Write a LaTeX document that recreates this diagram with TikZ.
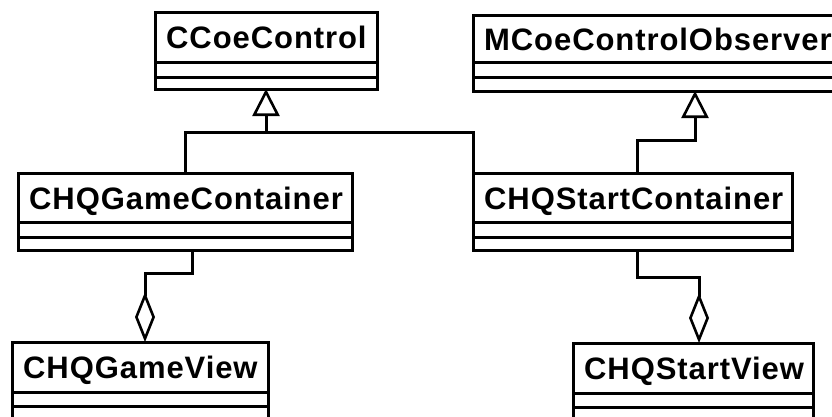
\documentclass[tikz,border=0pt]{standalone}
\usepackage{fontspec}
\setmainfont{Liberation Sans}[LetterSpace=3]
\usetikzlibrary{arrows.meta}

\tikzset{
  x=1pt, y=-1pt,
  umlline/.style={line width=3pt, line join=miter, line cap=rect},
  clsbox/.style={draw, line width=3pt, inner sep=0pt, outer sep=0pt, anchor=north west},
  clsname/.style={anchor=base west, inner sep=0pt, font=\fontsize{31}{31}\bfseries\selectfont},
  inherit/.style={umlline, line cap=butt, -{Triangle[open, length=27pt, width=27pt, line width=2.6pt]}},
  aggr/.style={umlline, line cap=butt, {Diamond[open, length=50pt, width=20pt, line width=2.6pt]}-}
}

% class box: #1 name, #2 title, #3 left, #4 right, #5 top, #6 name bottom, #7 separator, #8 bottom
\newcommand\umlcls[8]{%
  \node[clsbox, minimum width={(#4-#3)*1pt}, minimum height={(#8-#5)*1pt}] (#1) at (#3,#5) {};
  \draw[umlline] (#3,#6) -- (#4,#6) (#3,#7) -- (#4,#7);
  \node[clsname] (#1-title) at (#3+11,{(#5+#6)/2+11.5}) {#2};
}

\begin{document}
\begin{tikzpicture}
  \useasboundingbox (0,0) rectangle (832,416);
  \clip (0,0) rectangle (832,416);

  \umlcls{cc}{CCoeControl}{155}{377}{12}{62}{77}{89}
  \umlcls{mco}{MCoeControlObserver}{473}{917}{15}{62}{77}{91}
  \umlcls{gc}{CHQGameContainer}{18}{352}{173}{222}{237}{250}
  \umlcls{sc}{CHQStartContainer}{473}{792}{173}{222}{237}{250}
  \umlcls{gv}{CHQGameView}{12}{268}{342}{392}{406}{440}
  \umlcls{sv}{CHQStartView}{573}{813}{343}{393}{407}{440}

  % bend points of the connectors
  \coordinate (j1) at (266,132);
  \coordinate (j2a) at (637,140);
  \coordinate (j2b) at (695,140);
  \coordinate (j3a) at (192,273);
  \coordinate (j3b) at (145,273);
  \coordinate (j4a) at (637,277);
  \coordinate (j4b) at (699,277);

  % generalisations
  \draw[inherit] (gc.north -| 185,0) |- (j1) -- (cc.south -| j1);
  \draw[umlline] (sc.north west) |- (j1);
  \draw[inherit] (sc.north -| j2a) -- (j2a) -- (j2b) -- (mco.south -| j2b);

  % aggregations
  \draw[aggr] (gv.north -| j3b) -- (j3b) -- (j3a) -- (gc.south -| j3a);
  \draw[aggr] (sv.north -| j4b) -- (j4b) -- (j4a) -- (sc.south -| j4a);
\end{tikzpicture}
\end{document}
